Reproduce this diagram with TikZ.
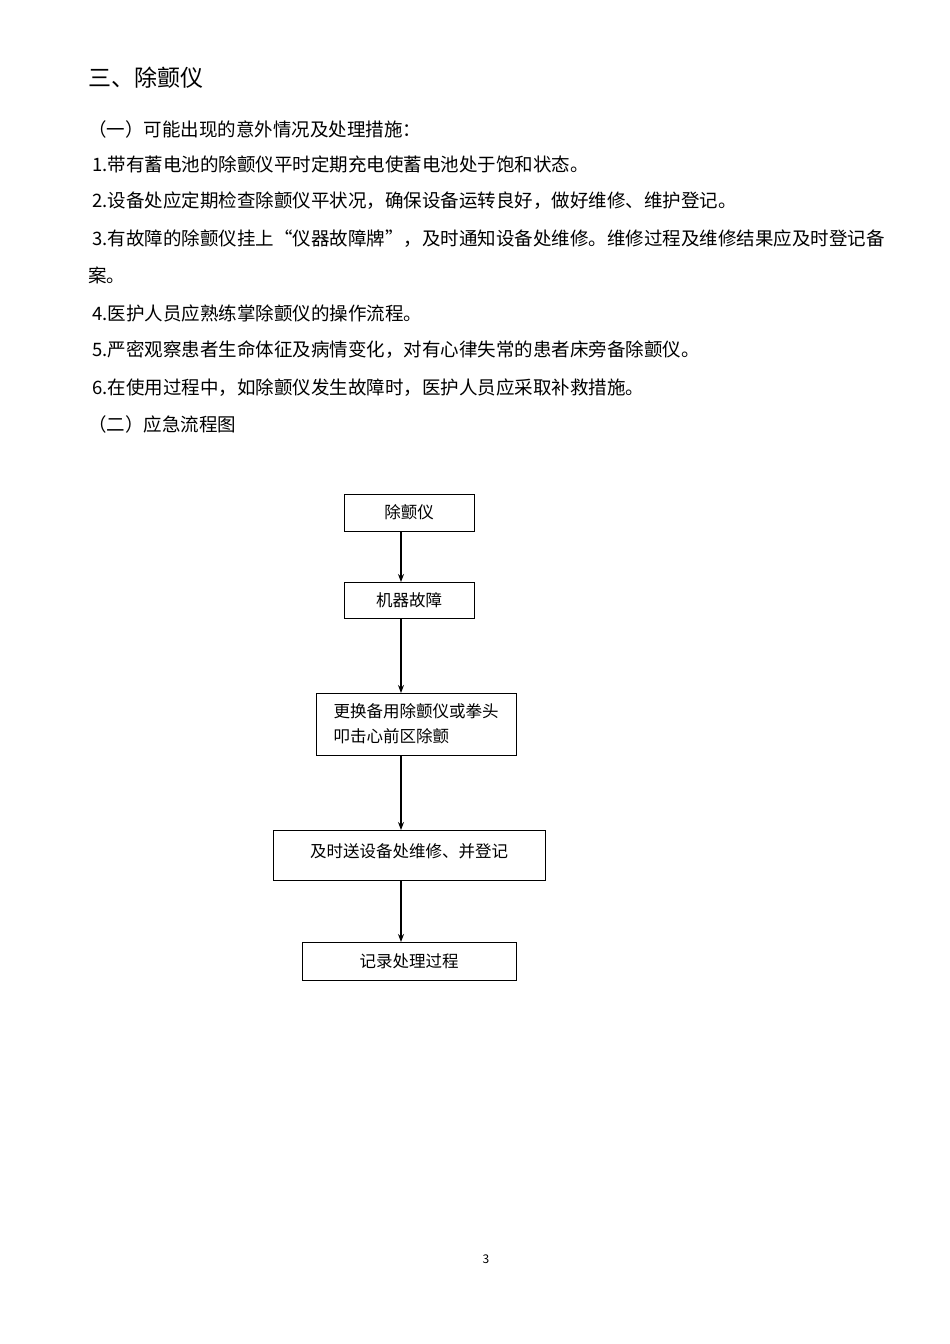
\documentclass[tikz,border=0pt]{standalone}
\usepackage{fontspec}
\usetikzlibrary{arrows.meta}
\setmainfont{Noto Sans CJK SC}
\begin{document}
\begin{tikzpicture}[x=1pt,y=-1pt,
  txt/.style={anchor=west,inner sep=0pt,font=\fontsize{18.5}{20}\selectfont},
  arr/.style={-{Stealth[length=8pt,width=6pt]},line width=1.3pt}]
\useasboundingbox (0,0) rectangle (950,1344);
\node[anchor=west,inner sep=0pt,font=\fontsize{23}{24}\selectfont] (t) at (88,78) {三、除颤仪};
\node[txt] (l0) at (88,129) {（一）可能出现的意外情况及处理措施：};
\node[txt] (l1) at (92,164) {1.带有蓄电池的除颤仪平时定期充电使蓄电池处于饱和状态。};
\node[txt] (l2) at (92,201) {2.设备处应定期检查除颤仪平状况，确保设备运转良好，做好维修、维护登记。};
\node[txt] (l3) at (92,239) {3.有故障的除颤仪挂上“仪器故障牌”，及时通知设备处维修。维修过程及维修结果应及时登记备};
\node[txt] (l3b) at (88,275) {案。};
\node[txt] (l4) at (92,313) {4.医护人员应熟练掌除颤仪的操作流程。};
\node[txt] (l5) at (92,350) {5.严密观察患者生命体征及病情变化，对有心律失常的患者床旁备除颤仪。};
\node[txt] (l6) at (92,388) {6.在使用过程中，如除颤仪发生故障时，医护人员应采取补救措施。};
\node[txt] (l7) at (88,424) {（二）应急流程图};
\begin{scope}[font=\fontsize{16.5}{25}\selectfont]
\draw[thick] (344,494) rectangle (474,531); \node (b1) at (409,512.5) {除颤仪};
\draw[thick] (344,582) rectangle (474,618); \node (b2) at (409,600) {机器故障};
\draw[thick] (316,693) rectangle (516,755); \node[align=left] (b3) at (416,724) {更换备用除颤仪或拳头\\叩击心前区除颤};
\draw[thick] (273,830) rectangle (545,880); \node (b4) at (409,851) {及时送设备处维修、并登记};
\draw[thick] (302,942) rectangle (516,980); \node (b5) at (409,961) {记录处理过程};
\end{scope}
\coordinate (a1) at (401,531); \coordinate (e1) at (401,582);
\coordinate (a2) at (401,618); \coordinate (e2) at (401,693);
\coordinate (a3) at (401,755); \coordinate (e3) at (401,830);
\coordinate (a4) at (401,880); \coordinate (e4) at (401,942);
\draw[arr] (a1) -- (e1);
\draw[arr] (a2) -- (e2);
\draw[arr] (a3) -- (e3);
\draw[arr] (a4) -- (e4);
\node[font=\fontsize{12}{14}\selectfont] (pg) at (486,1259) {3};
\end{tikzpicture}
\end{document}
